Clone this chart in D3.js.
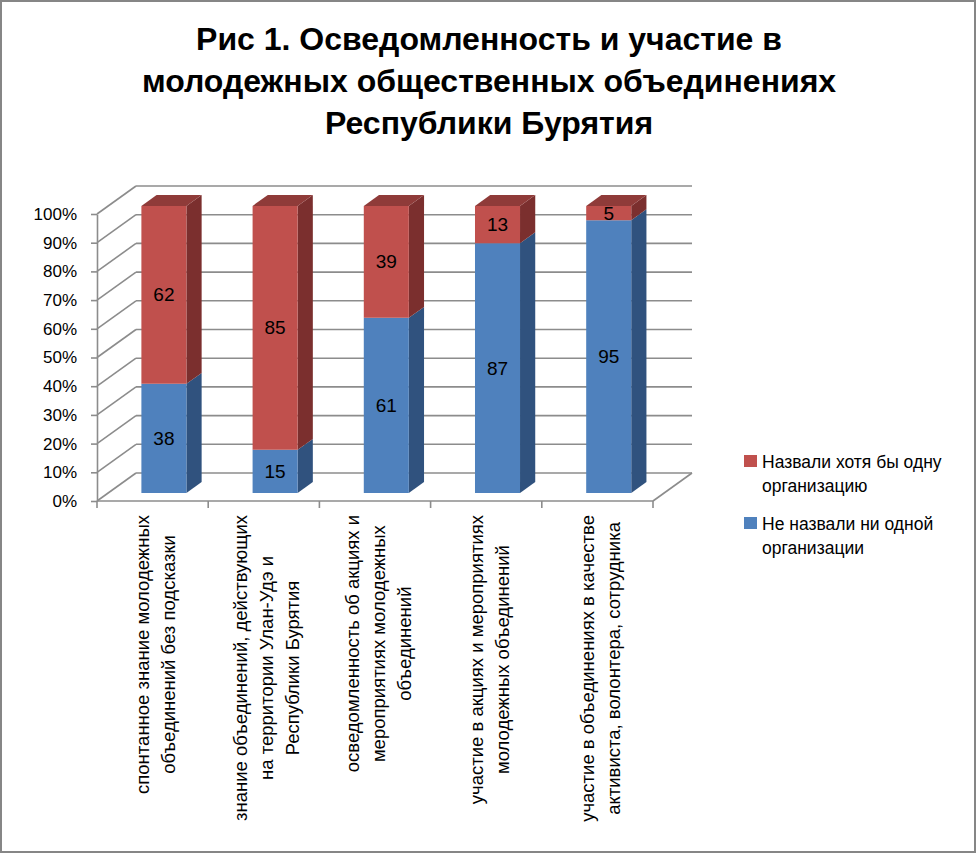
<!DOCTYPE html>
<html lang="ru">
<head>
<meta charset="UTF-8">
<title>Рис 1</title>
<style>
  * { margin: 0; padding: 0; }
  body { background: #fff; }
  text { font-family: 'Liberation Sans', Arial, sans-serif; }
</style>
</head>
<body>
<script src="https://cdn.jsdelivr.net/npm/d3@7"></script>
<script>
const titleLines = [
  'Рис 1. Осведомленность и участие в',
  'молодежных общественных объединениях',
  'Республики Бурятия'
]
const categories = ['cat1', 'cat2', 'cat3', 'cat4', 'cat5']
const categoryLines = [
  ['спонтанное знание молодежных', 'объединений без подсказки'],
  ['знание объединений, действующих', 'на территории Улан-Удэ и', 'Республики Бурятия'],
  ['осведомленность об акциях и', 'мероприятиях молодежных', 'объединений'],
  ['участие в акциях и мероприятиях', 'молодежных объединений'],
  ['участие в объединениях в качестве', 'активиста, волонтера, сотрудника']
]
const notNamed = [38, 15, 61, 87, 95]
const named = [62, 85, 39, 13, 5]
const yTicks = [0, 10, 20, 30, 40, 50, 60, 70, 80, 90, 100]
const legendItems = [
  { key: 'named', lines: ['Назвали хотя бы одну', 'организацию'] },
  { key: 'notNamed', lines: ['Не назвали ни одной', 'организации'] }
]

const colors = {
  notNamed: { front: '#4f81bd', side: '#30527e', top: '#3d6698' },
  named: { front: '#c0504d', side: '#7b2f2e', top: '#8f3b39' }
}

const W = 976, H = 853
const svg = d3.select('body').append('svg').attr('width', W).attr('height', H)

svg.append('rect')
  .attr('x', 1).attr('y', 1).attr('width', W - 2).attr('height', H - 2)
  .attr('fill', '#fff').attr('stroke', '#868686').attr('stroke-width', 2)

// заголовок
svg.append('text')
  .attr('text-anchor', 'middle')
  .attr('font-weight', 'bold')
  .attr('font-size', 32)
  .selectAll('tspan')
  .data(titleLines)
  .join('tspan')
  .attr('x', 489)
  .attr('y', (d, i) => 50 + i * 42)
  .text(d => d)

const x = d3.scaleBand().domain(categories).range([97, 653])
  .paddingInner(0.595).paddingOuter(0.2975)
const y = d3.scaleLinear().domain([0, 100]).range([501, 214])

// глубина 3D
const DX = 39, DY = 28
const pt = (px, v, z) => [px + z * DX, y(v) - z * DY]
const poly = pts => 'M' + pts.map(p => p.join(',')).join('L') + 'Z'

const x0 = x.range()[0], x1 = x.range()[1]
const grid = svg.append('g').attr('stroke', '#8c8c8c').attr('stroke-width', 1.6).attr('fill', 'none')

yTicks.forEach(t => {
  grid.append('path').attr('d', d3.line()([pt(x0, t, 1), pt(x1, t, 1)]))
  grid.append('path').attr('d', d3.line()([pt(x0, t, 0), pt(x0, t, 1)]))
})
grid.append('path').attr('d', d3.line()([pt(x1, 0, 0), pt(x1, 0, 1)]))

// оси
const yAxis = svg.append('g')
  .attr('transform', `translate(${x0},0)`)
  .call(d3.axisLeft(y).tickValues(yTicks).tickFormat(d => d + '%').tickSize(6).tickPadding(14).tickSizeOuter(0))
yAxis.selectAll('path, line').attr('stroke', '#8c8c8c').attr('stroke-width', 1.6)
yAxis.selectAll('text').attr('font-size', 17).attr('fill', '#000')
  .style('font-family', "'Liberation Sans', Arial, sans-serif")

const bottom = svg.append('g').attr('stroke', '#8c8c8c').attr('stroke-width', 1.6)
bottom.append('path').attr('d', d3.line()([[x0, y(0)], [x1, y(0)]]))
d3.range(categories.length + 1).forEach(i => {
  const bx = x0 + i * x.step()
  bottom.append('path').attr('d', d3.line()([[bx, y(0)], [bx, y(0) + 7]]))
})

// столбцы
const table = categories.map((c, i) => ({ cat: c, notNamed: notNamed[i], named: named[i] }))
const stacked = d3.stack().keys(['notNamed', 'named'])(table)

const z0 = 0.29, z1 = 0.68
const bars = svg.append('g')
stacked.forEach((series, si) => {
  series.forEach(seg => {
    const c = colors[series.key]
    const l = x(seg.data.cat), r = l + x.bandwidth()
    const [v0, v1] = seg
    bars.append('path').attr('fill', c.side)
      .attr('d', poly([pt(r, v0, z0), pt(r, v1, z0), pt(r, v1, z1), pt(r, v0, z1)]))
    bars.append('path').attr('fill', c.front)
      .attr('d', poly([pt(l, v0, z0), pt(r, v0, z0), pt(r, v1, z0), pt(l, v1, z0)]))
    if (si === stacked.length - 1) {
      bars.append('path').attr('fill', c.top)
        .attr('d', poly([pt(l, v1, z0), pt(r, v1, z0), pt(r, v1, z1), pt(l, v1, z1)]))
    }
    const [lx, ly] = pt((l + r) / 2, (v0 + v1) / 2, z0)
    bars.append('text')
      .attr('x', lx).attr('y', ly)
      .attr('text-anchor', 'middle')
      .attr('dominant-baseline', 'central')
      .attr('font-size', 19)
      .text(seg.data[series.key])
  })
})

// подписи категорий
categories.forEach((c, i) => {
  const cx = x(c) + x.bandwidth() / 2 + 3
  const g = svg.append('g')
  const texts = g.selectAll('text')
    .data(categoryLines[i])
    .join('text')
    .attr('font-size', 18.5)
    .attr('text-anchor', 'middle')
    .attr('dominant-baseline', 'central')
    .text(d => d)
  const maxLen = d3.max(texts.nodes(), n => n.getComputedTextLength())
  const n = categoryLines[i].length
  const cy = 515 + maxLen / 2
  texts.attr('transform', (d, j) => `translate(${cx + (j - (n - 1) / 2) * 26},${cy}) rotate(-90)`)
})

// легенда
const legend = svg.append('g')
legendItems.forEach((item, i) => {
  const top = 455 + i * 62
  legend.append('rect')
    .attr('x', 744).attr('y', top).attr('width', 13).attr('height', 12)
    .attr('fill', colors[item.key].front)
  legend.append('text')
    .attr('font-size', 17.5)
    .selectAll('tspan')
    .data(item.lines)
    .join('tspan')
    .attr('x', 762)
    .attr('y', (d, j) => top + 13 + j * 24)
    .text(d => d)
})
</script>
</body>
</html>
